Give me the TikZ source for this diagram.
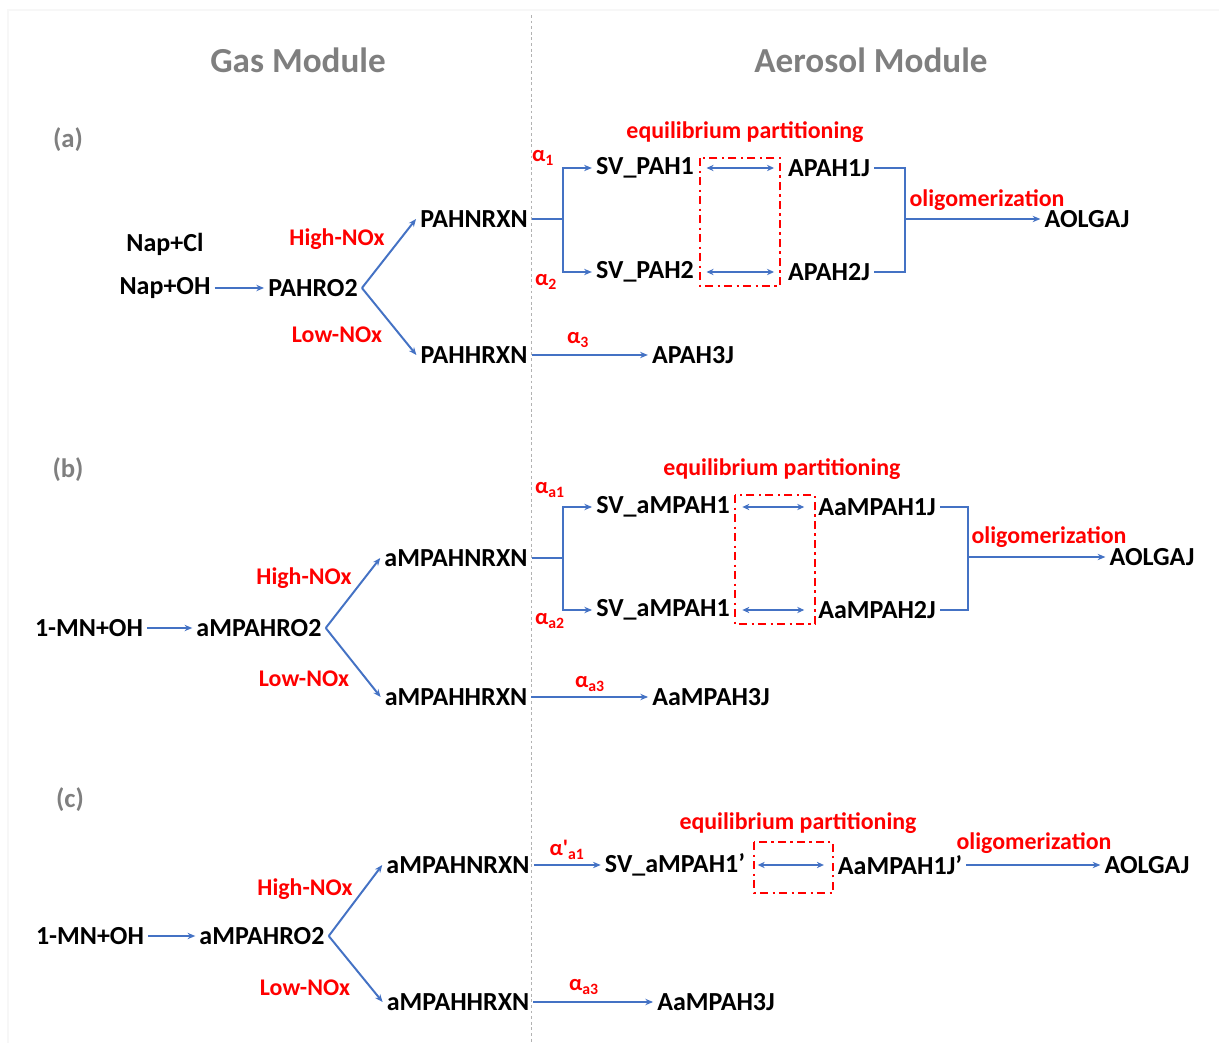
\documentclass[tikz,border=0pt]{standalone}
\usepackage{fontspec}
\setmainfont{Carlito}
\usetikzlibrary{arrows.meta}
\definecolor{lineblue}{HTML}{4472C4}
\definecolor{labred}{HTML}{FF0000}
\definecolor{headgray}{HTML}{7F7F7F}

\begin{document}
\begin{tikzpicture}[x=0.025cm, y=-0.025cm,
    species/.style={font=\fontsize{18.5}{20}\selectfont\bfseries, inner sep=1.5pt, outer sep=1.5pt},
    nox/.style={font=\fontsize{17}{19}\selectfont\bfseries, text=labred, inner sep=0pt},
    alpha/.style={font=\fontsize{16}{18}\selectfont\bfseries, text=labred, inner sep=0pt},
    modtitle/.style={font=\fontsize{25}{28}\selectfont\bfseries, text=headgray},
    caselabel/.style={font=\fontsize{19}{21}\selectfont\bfseries, text=headgray},
    flowline/.style={draw=lineblue, line width=1.4pt},
    flowarr/.style={flowline, -{Stealth[length=5.5pt,width=4.5pt]}},
    eqarr/.style={draw=lineblue, line width=1.1pt, {Stealth[length=5pt,width=4.5pt]}-{Stealth[length=5pt,width=4.5pt]}, shorten <=6pt, shorten >=7pt},
    eqbox/.style={draw=labred, line width=1.4pt, dash pattern=on 6pt off 3pt on 1.5pt off 3pt}]
  \useasboundingbox (0,0) rectangle (1219,1043);
  \draw[black!3, line width=1pt] (8,1043) -- (8,10) -- (1219,10);
  \draw[black!30, line width=0.6pt, dash pattern=on 2pt off 2pt] (531,15) -- (531,1043);

  % module titles
  \node[modtitle] (gas) at (298,60) {Gas Module};
  \node[modtitle] (aer) at (871,60) {Aerosol Module};

  % (a) naphthalene
  \node[caselabel] (casea) at (68,140) {(a)};
  \node[species] (napcl) at (165,244) {Nap+Cl};
  \node[species] (napoh) at (165,288) {Nap+OH};
  \node[species] (ro2a) at (313,288) {PAHRO2};
  \node[species] (nrxna) at (474,219) {PAHNRXN};
  \node[species] (hrxna) at (474,355) {PAHHRXN};
  \node[nox] (hia) at (337,239) {High-NOx};
  \node[nox] (loa) at (337,335) {Low-NOx};
  \draw[flowarr] (napoh) -- (ro2a);
  \draw[flowarr] (ro2a.east) -- (nrxna.west);
  \draw[flowarr] (ro2a.east) -- (hrxna.west);

  \node[species] (sv1a) at (645,168) {SV\_PAH1};
  \node[species] (sv2a) at (645,272) {SV\_PAH2};
  \node[species] (ap1a) at (829,168) {APAH1J};
  \node[species] (ap2a) at (829,272) {APAH2J};
  \node[species] (olga) at (1087,219) {AOLGAJ};
  \node[species] (ap3a) at (693,355) {APAH3J};
  \coordinate (fka) at (563,219);
  \coordinate (jna) at (905,219);
  \draw[flowline, line width=2pt] (nrxna) -- (fka);
  \draw[flowarr] (fka) |- (sv1a);
  \draw[flowarr] (fka) |- (sv2a);
  \draw[flowline] (ap1a) -| (jna) |- (ap2a);
  \draw[flowarr] (jna) -- (olga);
  \draw[flowarr] (hrxna) -- (ap3a);
  \draw[eqarr] (sv1a.east) -- (sv1a.east -| ap1a.west);
  \draw[eqarr] (sv2a.east) -- (sv2a.east -| ap2a.west);
  \draw[eqbox] (700,158) rectangle (780,286);
  \node[nox] (eqa) at (745,132) {equilibrium partitioning};
  \node[nox] (oga) at (987,200) {oligomerization};
  \node[alpha] (al1a) at (543,158) {α\textsubscript{1}};
  \node[alpha] (al2a) at (546,282) {α\textsubscript{2}};
  \node[alpha] (al3a) at (578,340) {α\textsubscript{3}};

  % (b) 1-methylnaphthalene
  \node[caselabel] (caseb) at (68,470) {(b)};
  \node[species] (mnb) at (89,628) {1-MN+OH};
  \node[species] (ro2b) at (259,628) {aMPAHRO2};
  \node[species] (nrxnb) at (456,558) {aMPAHNRXN};
  \node[species] (hrxnb) at (456,697) {aMPAHHRXN};
  \node[nox] (hib) at (304,578) {High-NOx};
  \node[nox] (lob) at (304,679) {Low-NOx};
  \draw[flowarr] (mnb) -- (ro2b);
  \draw[flowarr] (ro2b.east) -- (nrxnb.west);
  \draw[flowarr] (ro2b.east) -- (hrxnb.west);

  \node[species] (sv1b) at (663,507) {SV\_aMPAH1};
  \node[species] (sv2b) at (663,610) {SV\_aMPAH1};
  \node[species] (ap1b) at (877,507) {AaMPAH1J};
  \node[species] (ap2b) at (877,610) {AaMPAH2J};
  \node[species] (olgb) at (1152,557) {AOLGAJ};
  \node[species] (ap3b) at (711,697) {AaMPAH3J};
  \coordinate (fkb) at (563,558);
  \coordinate (jnb) at (968,557);
  \draw[flowline] (nrxnb) -- (fkb);
  \draw[flowarr] (fkb) |- (sv1b);
  \draw[flowarr] (fkb) |- (sv2b);
  \draw[flowline] (ap1b) -| (jnb) |- (ap2b);
  \draw[flowarr] (jnb) -- (olgb);
  \draw[flowarr] (hrxnb) -- (ap3b);
  \draw[eqarr] (sv1b.east) -- (sv1b.east -| ap1b.west);
  \draw[eqarr] (sv2b.east) -- (sv2b.east -| ap2b.west);
  \draw[eqbox] (735,495) rectangle (815,624);
  \node[nox] (eqb) at (782,469) {equilibrium partitioning};
  \node[nox] (ogb) at (1049,537) {oligomerization};
  \node[alpha] (al1b) at (550,490) {α\textsubscript{a1}};
  \node[alpha] (al2b) at (550,621) {α\textsubscript{a2}};
  \node[alpha] (al3b) at (590,684) {α\textsubscript{a3}};

  % (c) 1-methylnaphthalene, single product
  \node[caselabel] (casec) at (70,800) {(c)};
  \node[species] (mnc) at (90,936) {1-MN+OH};
  \node[species] (ro2c) at (262,936) {aMPAHRO2};
  \node[species] (nrxnc) at (458,865) {aMPAHNRXN};
  \node[species] (hrxnc) at (458,1002) {aMPAHHRXN};
  \node[nox] (hic) at (305,889) {High-NOx};
  \node[nox] (loc) at (305,988) {Low-NOx};
  \draw[flowarr] (mnc) -- (ro2c);
  \draw[flowarr] (ro2c.east) -- (nrxnc.west);
  \draw[flowarr] (ro2c.east) -- (hrxnc.west);

  \node[species] (sv1c) at (675,865) {SV\_aMPAH1'};
  \node[species] (ap1c) at (900,865) {AaMPAH1J'};
  \node[species] (olgc) at (1147,865) {AOLGAJ};
  \node[species] (ap3c) at (716,1002) {AaMPAH3J};
  \draw[flowarr] (nrxnc) -- (sv1c);
  \draw[flowarr] (ap1c) -- (olgc);
  \draw[flowarr] (hrxnc) -- (ap3c);
  \draw[eqarr] (sv1c.east) -- (sv1c.east -| ap1c.west);
  \draw[eqbox] (754,842) rectangle (833,893);
  \node[nox] (eqc) at (798,823) {equilibrium partitioning};
  \node[nox] (ogc) at (1034,843) {oligomerization};
  \node[alpha] (al1c) at (567,850) {α\textquotesingle\textsubscript{a1}};
  \node[alpha] (al3c) at (584,987) {α\textsubscript{a3}};
\end{tikzpicture}
\end{document}
